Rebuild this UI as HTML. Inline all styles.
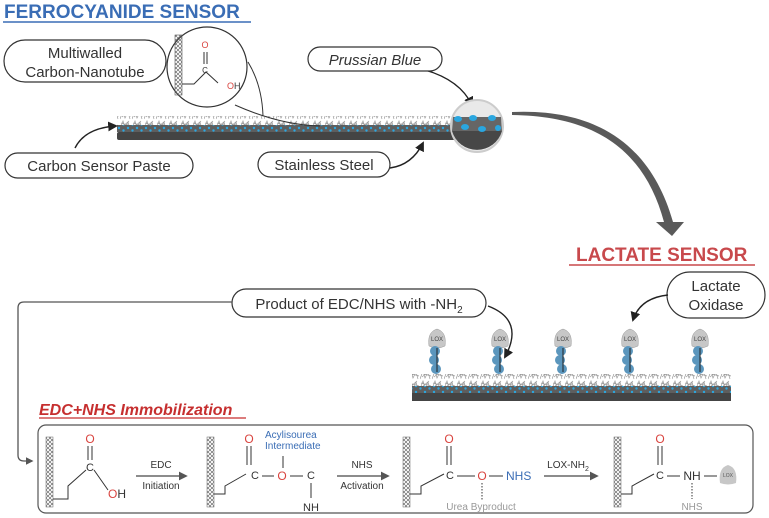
<!DOCTYPE html>
<html><head><meta charset="utf-8"><style>
html,body{margin:0;padding:0;background:#fff;}
svg{display:block;font-family:"Liberation Sans",sans-serif;}
</style></head><body>
<svg width="769" height="518" viewBox="0 0 769 518" xmlns="http://www.w3.org/2000/svg">
<defs>
<pattern id="mesh" width="12" height="10" patternUnits="userSpaceOnUse">
<path d="M0 9 L3 1 L5 8 L8 2 L10 9 M1 3 L11 6 M2 7 L9 1" stroke="#9a9a9a" stroke-width="0.7" fill="none"/>
</pattern>
<pattern id="dots" width="9" height="6" patternUnits="userSpaceOnUse">
<rect width="9" height="6" fill="#5e5e5e"/>
<circle cx="2" cy="2" r="1.2" fill="#2aa6df"/><circle cx="6.5" cy="4.5" r="1.2" fill="#2aa6df"/>
</pattern>
<pattern id="tube" width="4" height="4" patternUnits="userSpaceOnUse">
<path d="M0 0 L4 4 M4 0 L0 4" stroke="#555" stroke-width="0.6"/>
</pattern>
<marker id="ah" viewBox="0 0 10 10" refX="8" refY="5" markerWidth="7" markerHeight="7" orient="auto"><path d="M0 0 L10 5 L0 10 z" fill="#222"/></marker>
<marker id="ag" viewBox="0 0 10 10" refX="8" refY="5" markerWidth="6" markerHeight="6" orient="auto"><path d="M0 0 L10 5 L0 10 z" fill="#555"/></marker>
<g id="lox">
<path d="M-8 346 Q-10 332 0 329 Q10 332 8 346 Q0 350 -8 346z" fill="#c7c7c7" stroke="#999" stroke-width="0.5"/>
<text x="0" y="341" font-size="6" fill="#444" text-anchor="middle">LOX</text>
<circle cx="-2" cy="351" r="5" fill="#5b96bd"/><circle cx="-3" cy="360" r="5" fill="#5b96bd"/><circle cx="-1" cy="369" r="5" fill="#5b96bd"/>
<line x1="0" y1="348" x2="0" y2="372" stroke="#222" stroke-width="1"/>
</g>
</defs>

<!-- Title -->
<text x="4" y="18" font-size="19" font-weight="bold" fill="#3a6db5">FERROCYANIDE SENSOR</text>
<line x1="3" y1="22" x2="251" y2="22" stroke="#3a6db5" stroke-width="1.5"/>

<!-- strip 1 -->
<rect x="117" y="116" width="340" height="9" fill="url(#mesh)"/>
<rect x="117" y="125" width="340" height="7" fill="url(#dots)"/>
<rect x="117" y="132" width="340" height="8" fill="#444" rx="2"/>

<!-- connectors -->
<path d="M235 105 Q280 125 320 126" stroke="#333" stroke-width="1" fill="none"/>
<path d="M248 62 Q262 85 263 116" stroke="#333" stroke-width="1" fill="none"/>
<path d="M75 148 Q85 128 116 126" stroke="#222" stroke-width="1.4" fill="none" marker-end="url(#ah)"/>
<path d="M390 168 Q412 165 423 143" stroke="#222" stroke-width="1.4" fill="none" marker-end="url(#ah)"/>
<path d="M425 70 Q460 80 472 105" stroke="#222" stroke-width="1.4" fill="none" marker-end="url(#ah)"/>

<!-- circle zoom MWCNT -->
<circle cx="207" cy="67" r="40" fill="#fff" stroke="#333" stroke-width="1.2"/>
<rect x="175" y="35" width="7" height="60" fill="url(#tube)" stroke="#555" stroke-width="0.6"/>
<path d="M182 84 L194 84 L206 72 L218 83" stroke="#333" stroke-width="1" fill="none"/>
<line x1="204" y1="52" x2="204" y2="64" stroke="#333"/><line x1="207" y1="52" x2="207" y2="64" stroke="#333"/>
<text x="205" y="48" font-size="9" fill="#d9443f" text-anchor="middle">O</text>
<text x="205" y="73" font-size="8" fill="#333" text-anchor="middle">C</text>
<text x="227" y="89" font-size="9" fill="#d9443f">O<tspan fill="#333">H</tspan></text>

<!-- end circle -->
<circle cx="477" cy="126" r="26" fill="#e9e9e9" stroke="#ccc" stroke-width="2"/>
<path d="M453 117 L501 117 L502 131 L452 131 z" fill="#666"/>
<path d="M452 131 L502 131 A26 26 0 0 1 452 131z" fill="#474747"/>
<ellipse cx="458" cy="119" rx="4" ry="3" fill="#2aa6df"/><ellipse cx="473" cy="118" rx="4" ry="3" fill="#2aa6df"/><ellipse cx="492" cy="118" rx="4" ry="3" fill="#2aa6df"/>
<ellipse cx="465" cy="127" rx="4" ry="3" fill="#2aa6df"/><ellipse cx="482" cy="129" rx="4" ry="3" fill="#2aa6df"/><ellipse cx="498" cy="128" rx="3" ry="3" fill="#2aa6df"/>

<!-- pills -->
<rect x="4" y="40" width="162" height="42" rx="21" fill="#fff" stroke="#333" stroke-width="1.2"/>
<text x="85" y="58" font-size="15" fill="#333" text-anchor="middle">Multiwalled</text>
<text x="85" y="77" font-size="15" fill="#333" text-anchor="middle">Carbon-Nanotube</text>
<rect x="308" y="47" width="134" height="24" rx="12" fill="#fff" stroke="#333" stroke-width="1.2"/>
<text x="375" y="65" font-size="15" fill="#333" font-style="italic" text-anchor="middle">Prussian Blue</text>
<rect x="5" y="153" width="188" height="25" rx="12.5" fill="#fff" stroke="#333" stroke-width="1.2"/>
<text x="99" y="171" font-size="15" fill="#333" text-anchor="middle">Carbon Sensor Paste</text>
<rect x="258" y="152" width="132" height="25" rx="12.5" fill="#fff" stroke="#333" stroke-width="1.2"/>
<text x="324" y="170" font-size="15" fill="#333" text-anchor="middle">Stainless Steel</text>

<!-- big arrow (tapered) -->
<path d="M512 112 C600 108 652 148 673 222 L664 222 C645 152 598 116 512 115 z" fill="#5a5a5a"/>
<path d="M656 222 L684 222 L672 236 z" fill="#5a5a5a"/>

<!-- LACTATE SENSOR -->
<text x="576" y="261" font-size="19" font-weight="bold" fill="#c8494c">LACTATE SENSOR</text>
<line x1="569" y1="265" x2="755" y2="265" stroke="#c8494c" stroke-width="1.5"/>

<rect x="667" y="272" width="98" height="46" rx="23" fill="#fff" stroke="#333" stroke-width="1.2"/>
<text x="716" y="291" font-size="15" fill="#333" text-anchor="middle">Lactate</text>
<text x="716" y="310" font-size="15" fill="#333" text-anchor="middle">Oxidase</text>
<path d="M668 295 Q640 298 633 320" stroke="#222" stroke-width="1.4" fill="none" marker-end="url(#ah)"/>

<rect x="232" y="289" width="254" height="28" rx="14" fill="#fff" stroke="#333" stroke-width="1.2"/>
<text x="359" y="309" font-size="15" fill="#333" text-anchor="middle">Product of EDC/NHS with -NH<tspan font-size="10" dy="4">2</tspan></text>
<path d="M488 306 Q525 320 505 357" stroke="#222" stroke-width="1.4" fill="none" marker-end="url(#ah)"/>

<!-- strip 2 -->
<rect x="412" y="374" width="319" height="12" fill="url(#mesh)"/>
<rect x="412" y="386" width="319" height="7" fill="url(#dots)"/>
<rect x="412" y="393" width="319" height="8" fill="#444"/>

<use href="#lox" x="437"/><use href="#lox" x="500"/><use href="#lox" x="563"/><use href="#lox" x="630"/><use href="#lox" x="700"/>

<!-- left connector -->
<path d="M232 302 L24 302 Q18 302 18 308 L18 455 Q18 461 24 461 L32 461" stroke="#555" stroke-width="1.3" fill="none" marker-end="url(#ag)"/>

<!-- EDC title -->
<text x="39" y="415" font-size="16" font-weight="bold" font-style="italic" fill="#c62f2f">EDC+NHS Immobilization</text>
<line x1="39" y1="418" x2="246" y2="418" stroke="#c62f2f" stroke-width="1.3"/>

<rect x="38" y="425" width="715" height="88" rx="8" fill="#fff" stroke="#555" stroke-width="1.2"/>

<g font-size="10" fill="#333">
<rect x="46" y="437" width="7" height="70" fill="url(#tube)" stroke="#666" stroke-width="0.5"/>
<path d="M53 499 L68 499 L68 486 L86 470 M94 470 L108 490" stroke="#333" fill="none"/>
<line x1="88" y1="446" x2="88" y2="460" stroke="#333"/><line x1="92" y1="446" x2="92" y2="460" stroke="#333"/>
<text x="90" y="443" font-size="12" fill="#d9443f" text-anchor="middle">O</text>
<text x="90" y="471" font-size="11" text-anchor="middle">C</text>
<text x="108" y="498" font-size="12" fill="#d9443f">O<tspan fill="#333">H</tspan></text>
<line x1="136" y1="476" x2="186" y2="476" stroke="#666" stroke-width="1.5" marker-end="url(#ag)"/>
<text x="161" y="468" text-anchor="middle">EDC</text>
<text x="161" y="489" text-anchor="middle">Initiation</text>

<rect x="207" y="437" width="7" height="70" fill="url(#tube)" stroke="#666" stroke-width="0.5"/>
<path d="M214 494 L225 494 L225 486 L246 474" stroke="#333" fill="none"/>
<line x1="247" y1="446" x2="247" y2="465" stroke="#333"/><line x1="251" y1="446" x2="251" y2="465" stroke="#333"/>
<text x="249" y="443" font-size="12" fill="#d9443f" text-anchor="middle">O</text>
<text x="255" y="479" font-size="11" text-anchor="middle">C</text>
<line x1="262" y1="476" x2="274" y2="476" stroke="#333"/>
<text x="282" y="480" font-size="12" fill="#d9443f" text-anchor="middle">O</text>
<line x1="290" y1="476" x2="303" y2="476" stroke="#333"/>
<text x="311" y="479" font-size="11" text-anchor="middle">C</text>
<line x1="283" y1="456" x2="283" y2="468" stroke="#333"/>
<line x1="311" y1="483" x2="311" y2="498" stroke="#333"/>
<text x="311" y="511" font-size="11" text-anchor="middle">NH</text>
<text x="265" y="438" fill="#3a6db5">Acylisourea</text>
<text x="265" y="449" fill="#3a6db5">Intermediate</text>
<line x1="337" y1="476" x2="388" y2="476" stroke="#666" stroke-width="1.5" marker-end="url(#ag)"/>
<text x="362" y="468" text-anchor="middle">NHS</text>
<text x="362" y="489" text-anchor="middle">Activation</text>

<rect x="403" y="437" width="7" height="70" fill="url(#tube)" stroke="#666" stroke-width="0.5"/>
<path d="M410 494 L421 494 L421 486 L444 474" stroke="#333" fill="none"/>
<line x1="447" y1="446" x2="447" y2="465" stroke="#333"/><line x1="451" y1="446" x2="451" y2="465" stroke="#333"/>
<text x="449" y="443" font-size="12" fill="#d9443f" text-anchor="middle">O</text>
<text x="450" y="479" font-size="11" text-anchor="middle">C</text>
<line x1="457" y1="476" x2="475" y2="476" stroke="#333"/>
<text x="482" y="480" font-size="12" fill="#d9443f" text-anchor="middle">O</text>
<line x1="489" y1="476" x2="503" y2="476" stroke="#333"/>
<text x="506" y="480" font-size="12" fill="#3a6db5">NHS</text>
<line x1="482" y1="483" x2="482" y2="500" stroke="#333" stroke-dasharray="1.5 1.5"/>
<text x="481" y="510" fill="#999" text-anchor="middle">Urea Byproduct</text>
<line x1="544" y1="476" x2="597" y2="476" stroke="#666" stroke-width="1.5" marker-end="url(#ag)"/>
<text x="568" y="468" text-anchor="middle">LOX-NH<tspan font-size="7" dy="3">2</tspan></text>

<rect x="614" y="437" width="7" height="70" fill="url(#tube)" stroke="#666" stroke-width="0.5"/>
<path d="M621 494 L632 494 L632 486 L654 474" stroke="#333" fill="none"/>
<line x1="658" y1="446" x2="658" y2="465" stroke="#333"/><line x1="662" y1="446" x2="662" y2="465" stroke="#333"/>
<text x="660" y="443" font-size="12" fill="#d9443f" text-anchor="middle">O</text>
<text x="660" y="479" font-size="11" text-anchor="middle">C</text>
<line x1="667" y1="476" x2="680" y2="476" stroke="#333"/>
<text x="692" y="480" font-size="12" text-anchor="middle">NH</text>
<line x1="704" y1="476" x2="717" y2="476" stroke="#333"/>
<line x1="692" y1="483" x2="692" y2="499" stroke="#333" stroke-dasharray="1.5 1.5"/>
<text x="692" y="510" fill="#999" text-anchor="middle">NHS</text>
<path d="M720 483 Q718 468 728 465 Q738 468 736 483 Q728 486 720 483z" fill="#c7c7c7"/>
<text x="728" y="477" font-size="5" fill="#555" text-anchor="middle">LOX</text>
</g>
</svg>
</body></html>
